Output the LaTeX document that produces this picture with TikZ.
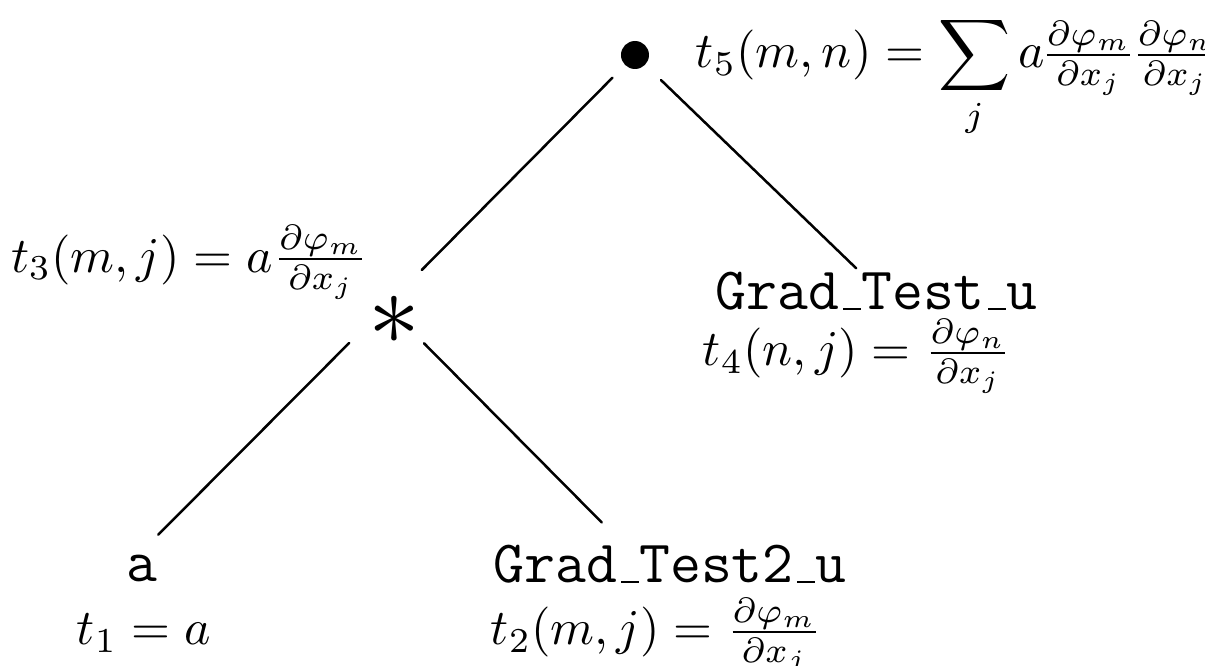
\documentclass[tikz,border=0pt]{standalone}
\usetikzlibrary{calc}
\newcommand\ttus{\leavevmode\kern.06em\vbox{\hrule width.3em}}
\begin{document}
\begin{tikzpicture}[x=0.2pt,y=-0.2pt,
  edge/.style={line width=0.5pt, line cap=round},
  lbl/.style={inner sep=0pt, anchor=base west},
  ttlbl/.style={inner sep=0pt, anchor=base west, font=\fontsize{12}{14}\selectfont\ttfamily}]
\useasboundingbox (0,0) rectangle (1205,666);
% nodes
\node[circle, fill=black, inner sep=0pt, minimum size=5.6pt] (root) at (635,55) {};
\node[lbl] (t5) at (695,68) {$t_5(m,n)=\displaystyle\sum_j\textstyle a\mkern-1.5mu\frac{\partial\varphi_m}{\partial x_j}\mkern-1.5mu\frac{\partial\varphi_n}{\partial x_j}$};
\node[lbl] (t3) at (10,272) {$t_3(m,j)=a\frac{\partial\varphi_m}{\partial x_j}$};
\node[inner sep=0pt] (star) at (394,320) {\fontsize{22}{22}\selectfont$\ast$};
\node[ttlbl] (gtu) at (715,310) {Grad\ttus Test\ttus u};
\node[lbl] (t4) at (702,366) {$t_4(n,j)=\frac{\partial\varphi_n}{\partial x_j}$};
\node[ttlbl, anchor=base] (a) at (142,582) {a};
\node[lbl] (t1) at (76,645) {$t_1=a$};
\node[ttlbl] (g2) at (493,583) {Grad\ttus Test2\ttus u};
\node[lbl] (t2) at (490,645) {$t_2(m,j)=\frac{\partial\varphi_m}{\partial x_j}$};
% edges
\draw[edge, shorten <=6.4pt, shorten >=7.9pt] (root.center) -- ($(star.center)+(0,-22)$);
\draw[edge, shorten <=7.2pt, shorten >=5.7pt] (root.center) -- ($(gtu.base)+(0,-22)$);
\draw[edge, shorten <=12.7pt, shorten >=4.6pt] ($(star.center)+(0,-22)$) -- ($(a.base)+(0,-31)$);
\draw[edge, shorten <=8.5pt, shorten >=7.2pt] ($(star.center)+(0,-7)$) -- ($(g2.base)+(-43,-35)$);
\end{tikzpicture}
\end{document}
